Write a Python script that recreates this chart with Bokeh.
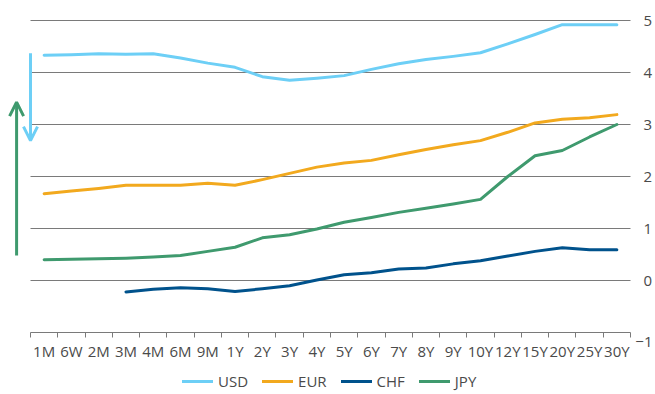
import math
from bokeh.plotting import figure
from bokeh.models import (FixedTicker, Legend, LegendItem, Arrow, OpenHead,
                          ColumnDataSource, Range1d, Label)
from bokeh.embed import file_html
from bokeh.resources import INLINE

nan = float("nan")

tenors = ["1M", "6W", "2M", "3M", "4M", "6M", "9M", "1Y", "2Y", "3Y", "4Y",
          "5Y", "6Y", "7Y", "8Y", "9Y", "10Y", "12Y", "15Y", "20Y", "25Y", "30Y"]
usd = [4.33, 4.34, 4.36, 4.35, 4.36, 4.28, 4.18, 4.10, 3.92, 3.85, 3.89,
       3.94, 4.06, 4.17, 4.25, 4.31, 4.38, 4.55, 4.73, 4.92, 4.92, 4.92]
eur = [1.67, 1.72, 1.77, 1.83, 1.83, 1.83, 1.87, 1.83, 1.94, 2.06, 2.18,
       2.26, 2.31, 2.42, 2.52, 2.61, 2.69, 2.85, 3.03, 3.10, 3.13, 3.19]
chf = [nan, nan, nan, -0.22, -0.17, -0.14, -0.16, -0.21, -0.16, -0.10, 0.01,
       0.11, 0.15, 0.22, 0.24, 0.32, 0.38, 0.47, 0.56, 0.63, 0.59, 0.59]
jpy = [0.40, 0.41, 0.42, 0.43, 0.45, 0.48, 0.56, 0.64, 0.82, 0.88, 0.99,
       1.12, 1.21, 1.31, 1.39, 1.47, 1.56, 2.00, 2.40, 2.50, 2.76, 3.00]
y_ticks = [0, 1, 2, 3, 4, 5]
y_min = -1
y_min_label = "\u22121"

# arrows: (x, y_start, y_end)
usd_arrow = (0.0, 4.37, 2.69)
jpy_arrow = (-0.51, 0.48, 3.43)

series = [("USD", usd, "#6DCFF6"), ("EUR", eur, "#F2A91E"),
          ("CHF", chf, "#00528C"), ("JPY", jpy, "#3F9A6E")]

FONT = "Open Sans"
TXT = "#4a4a4a"
GRID = "#7a7a7a"

W, H = 655, 394
n = len(tenors)
centers = [i + 0.5 for i in range(n)]
edges = list(range(n + 1))

# pixel layout of the category area inside the page
left_px, right_px, top_px = 30, 630, 20
px_per_x = (right_px - left_px) / n
px_per_y = 52
x_start = -left_px / px_per_x
x_end = n + (W - right_px) / px_per_x
y_end = max(y_ticks) + top_px / px_per_y
y_start = y_end - H / px_per_y

p = figure(width=W, height=H,
           x_range=Range1d(x_start, x_end), y_range=Range1d(y_start, y_end),
           y_axis_location="right", output_backend="svg", toolbar_location=None,
           min_border_left=0, min_border_top=0, min_border_right=0,
           min_border_bottom=0, outline_line_color=None)
p.xgrid.grid_line_color = None
p.ygrid.grid_line_color = None

# horizontal grid lines spanning the category area only
p.segment(x0=[0] * len(y_ticks), x1=[n] * len(y_ticks), y0=y_ticks, y1=y_ticks,
          line_color=GRID, line_width=1)

items = []
for name, vals, col in series:
    src = ColumnDataSource(dict(x=centers, y=vals))
    r = p.line("x", "y", source=src, line_color=col, line_width=3,
               line_join="round", line_cap="round")
    items.append(LegendItem(label=name, renderers=[r]))

for (ax, y0, y1), col in [(usd_arrow, "#6DCFF6"), (jpy_arrow, "#3F9A6E")]:
    p.add_layout(Arrow(x_start=ax, y_start=y0, x_end=ax, y_end=y1,
                       line_color=col, line_width=3,
                       end=OpenHead(size=14, line_color=col, line_width=3)))

xa = p.xaxis[0]
xa.fixed_location = y_min
xa.ticker = FixedTicker(ticks=centers, minor_ticks=edges)
xa.bounds = (0, n)
xa.major_label_overrides = {c: t for c, t in zip(centers, tenors)}
xa.major_tick_line_color = None
xa.major_tick_out = 0
xa.major_tick_in = 0
xa.minor_tick_line_color = GRID
xa.minor_tick_out = 5
xa.minor_tick_in = 0
xa.axis_line_color = GRID
xa.major_label_standoff = 3
xa.major_label_text_font = FONT
xa.major_label_text_font_size = "15px"
xa.major_label_text_color = TXT

ya = p.yaxis[0]
ya.fixed_location = n
ya.ticker = FixedTicker(ticks=y_ticks)
ya.axis_line_color = None
ya.major_tick_line_color = None
ya.minor_tick_line_color = None
ya.major_tick_out = 0
ya.major_label_standoff = 13
ya.major_label_text_font = FONT
ya.major_label_text_font_size = "15px"
ya.major_label_text_color = TXT

p.add_layout(Label(x=n, y=y_min, text=y_min_label, x_offset=22, y_offset=-9,
                   text_align="right", text_baseline="middle",
                   text_font=FONT, text_font_size="15px", text_color=TXT))

legend = Legend(items=items, orientation="horizontal", location=(182, 3),
                glyph_width=31, glyph_height=20, label_height=20,
                label_standoff=5, spacing=14,
                padding=0, margin=0, border_line_color=None,
                background_fill_alpha=0, label_text_font=FONT,
                label_text_font_size="15px", label_text_color=TXT)
p.add_layout(legend, "center")

open("out.html", "w").write(file_html(p, INLINE))
